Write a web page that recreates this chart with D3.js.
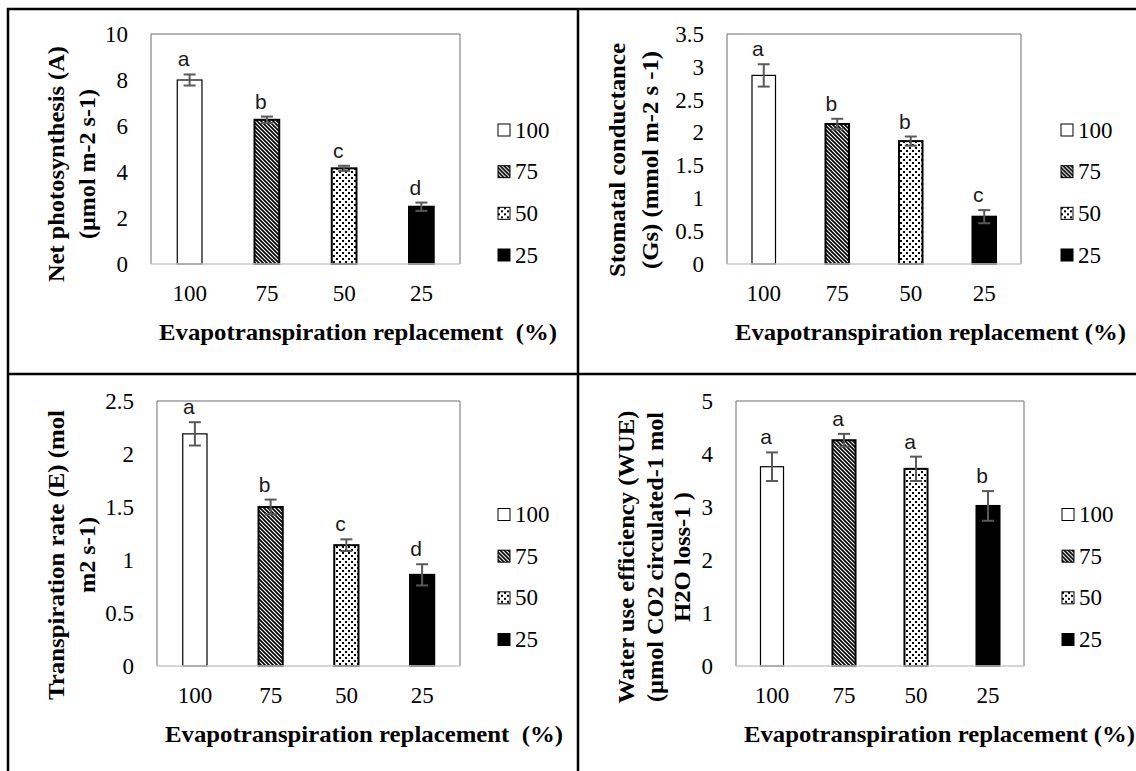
<!DOCTYPE html>
<html>
<head>
<meta charset="utf-8">
<script src="https://cdn.jsdelivr.net/npm/d3@7/dist/d3.min.js"></script>
<style>
  body { margin: 0; background: #fff; }
  svg { display: block; }
  text { font-family: "Liberation Serif", "Times New Roman", serif; white-space: pre; }
</style>
</head>
<body>
<div id="main"></div>
<script>
// treatments (evapotranspiration replacement %)
const categories = ['100', '75', '50', '25'];

const photosynthesis = [8.0, 6.27, 4.16, 2.49];
const photosynthesisErr = [0.24, 0.14, 0.11, 0.18];
const photosynthesisLetters = ['a', 'b', 'c', 'd'];
const photosynthesisTicks = [0, 2, 4, 6, 8, 10];

const conductance = [2.87, 2.13, 1.87, 0.72];
const conductanceErr = [0.17, 0.08, 0.07, 0.1];
const conductanceLetters = ['a', 'b', 'b', 'c'];
const conductanceTicks = [0, 0.5, 1, 1.5, 2, 2.5, 3, 3.5];

const transpiration = [2.19, 1.5, 1.14, 0.86];
const transpirationErr = [0.11, 0.07, 0.055, 0.1];
const transpirationLetters = ['a', 'b', 'c', 'd'];
const transpirationTicks = [0, 0.5, 1, 1.5, 2, 2.5];

const wue = [3.76, 4.26, 3.72, 3.02];
const wueErr = [0.27, 0.12, 0.23, 0.28];
const wueLetters = ['a', 'a', 'a', 'b'];
const wueTicks = [0, 1, 2, 3, 4, 5];

const W = 1136, H = 771;
const SERIF = '"Liberation Serif", "Times New Roman", serif';

const svg = d3.select('#main')
    .append('svg')
    .attr('width', W)
    .attr('height', H);

// fill patterns, one per treatment
const defs = svg.append('defs');
const stripes = defs.append('pattern')
    .attr('id', 'p75')
    .attr('patternUnits', 'userSpaceOnUse')
    .attr('width', 4).attr('height', 4);
stripes.append('rect').attr('width', 4).attr('height', 4).attr('fill', '#fff');
stripes.append('path')
    .attr('d', 'M-1,-1 L5,5 M-1,3 L1,5 M3,-1 L5,1')
    .attr('stroke', '#000').attr('stroke-width', 1.7);

const dots = defs.append('pattern')
    .attr('id', 'p50')
    .attr('patternUnits', 'userSpaceOnUse')
    .attr('width', 6).attr('height', 6);
dots.append('rect').attr('width', 6).attr('height', 6).attr('fill', '#fff');
dots.append('rect').attr('x', 0).attr('y', 0).attr('width', 2).attr('height', 2).attr('fill', '#000');
dots.append('rect').attr('x', 3).attr('y', 3).attr('width', 2).attr('height', 2).attr('fill', '#000');

const fills = { '100': '#fff', '75': 'url(#p75)', '50': 'url(#p50)', '25': '#000' };

const panels = [
    { values: photosynthesis, err: photosynthesisErr, letters: photosynthesisLetters, ticks: photosynthesisTicks,
      box: [151, 460, 34, 264], legendX: 498, titleX: [56, 87], titleY: 164, titleLen: [236, 150],
      yTitle: ['Net photosynthesis (A)', '(\u00b5mol m-2 s-1)'],
      xTitle: 'Evapotranspiration replacement  (%)', xTitleLen: 398 },
    { values: conductance, err: conductanceErr, letters: conductanceLetters, ticks: conductanceTicks,
      box: [727, 1021, 34, 264], legendX: 1061, titleX: [617, 650], titleY: 160, titleLen: [234, 218],
      yTitle: ['Stomatal conductance', '(Gs) (mmol m-2 s -1)'],
      xTitle: 'Evapotranspiration replacement (%)', xTitleLen: 391 },
    { values: transpiration, err: transpirationErr, letters: transpirationLetters, ticks: transpirationTicks,
      box: [157, 460, 401, 666], legendX: 498, titleX: [56, 87], titleY: 555, titleLen: [290, 76],
      yTitle: ['Transpiration rate (E) (mol', 'm2 s-1)'],
      xTitle: 'Evapotranspiration replacement  (%)', xTitleLen: 398 },
    { values: wue, err: wueErr, letters: wueLetters, ticks: wueTicks,
      box: [736, 1024, 401, 666], legendX: 1062, titleX: [626, 655, 682], titleY: 557, titleLen: [293, 290, 130],
      yTitle: ['Water use efficiency (WUE)', '(\u00b5mol CO2 circulated-1 mol', 'H2O loss-1 )'],
      xTitle: 'Evapotranspiration replacement (%)', xTitleLen: 391 }
];

panels.forEach(drawPanel);

function drawPanel(p) {
    const [left, right, top, bottom] = p.box;
    const g = svg.append('g');

    const x = d3.scaleBand().domain(categories).range([left, right]);
    const y = d3.scaleLinear().domain([0, d3.max(p.ticks)]).range([bottom, top]);
    const bw = x.bandwidth() * 0.32;

    // plot frame
    g.append('path')
        .attr('d', `M${left},${bottom} V${top} H${right} V${bottom}`)
        .attr('fill', 'none').attr('stroke', '#6f6f6f').attr('stroke-width', 1);

    const yAxis = d3.axisLeft(y).tickValues(p.ticks).tickSize(0).tickPadding(23)
        .tickFormat(d3.format('~g'));
    g.append('g')
        .attr('transform', `translate(${left},0)`)
        .call(yAxis)
        .call(a => a.select('.domain').remove())
        .selectAll('text')
        .style('font-family', SERIF)
        .attr('font-size', 23).attr('fill', '#000');

    const xAxis = d3.axisBottom(x).tickSize(0).tickPadding(21);
    g.append('g')
        .attr('transform', `translate(0,${bottom})`)
        .call(xAxis)
        .call(a => a.select('.domain').remove())
        .selectAll('text')
        .style('font-family', SERIF)
        .attr('font-size', 23).attr('fill', '#000');

    const rows = categories.map((c, i) => ({ c, v: p.values[i], e: p.err[i], l: p.letters[i] }));

    g.selectAll('rect.bar')
        .data(rows)
        .enter()
        .append('rect')
        .attr('class', 'bar')
        .attr('x', d => x(d.c) + (x.bandwidth() - bw) / 2)
        .attr('y', d => y(d.v))
        .attr('width', bw)
        .attr('height', d => y(0) - y(d.v))
        .attr('fill', d => fills[d.c])
        .attr('stroke', '#000')
        .attr('stroke-width', d => d.c === '100' ? 1.2 : 2);

    // baseline
    g.append('line')
        .attr('x1', left).attr('x2', right)
        .attr('y1', bottom).attr('y2', bottom)
        .attr('stroke', '#c8c8c8').attr('stroke-width', 1.5);

    // error bars
    const eb = g.selectAll('g.err').data(rows).enter().append('g')
        .attr('stroke', '#595959').attr('stroke-width', 2);
    const cx = d => x(d.c) + x.bandwidth() / 2;
    eb.append('line')
        .attr('x1', cx).attr('x2', cx)
        .attr('y1', d => y(d.v + d.e)).attr('y2', d => y(d.v - d.e));
    eb.append('line')
        .attr('x1', d => cx(d) - 6).attr('x2', d => cx(d) + 6)
        .attr('y1', d => y(d.v + d.e)).attr('y2', d => y(d.v + d.e));
    eb.append('line')
        .attr('x1', d => cx(d) - 6).attr('x2', d => cx(d) + 6)
        .attr('y1', d => y(d.v - d.e)).attr('y2', d => y(d.v - d.e));

    // significance letters
    g.selectAll('text.letter')
        .data(rows)
        .enter()
        .append('text')
        .attr('class', 'letter')
        .attr('x', d => cx(d) - 6)
        .attr('y', d => y(d.v + d.e) - 8)
        .attr('text-anchor', 'middle')
        .style('font-family', '"Liberation Sans", Arial, sans-serif')
        .attr('font-size', 21)
        .attr('fill', '#1a1a1a')
        .text(d => d.l);

    // x title
    g.append('text')
        .attr('x', left + 8)
        .attr('y', bottom + 76)
        .attr('font-size', 24).attr('font-weight', 'bold')
        .attr('textLength', p.xTitleLen)
        .attr('lengthAdjust', 'spacingAndGlyphs')
        .text(p.xTitle);

    // y title lines
    p.yTitle.forEach((t, i) => {
        g.append('text')
            .attr('transform', `translate(${p.titleX[i]},${p.titleY}) rotate(-90)`)
            .attr('x', -p.titleLen[i] / 2)
            .attr('dominant-baseline', 'central')
            .attr('font-size', 24).attr('font-weight', 'bold')
            .attr('textLength', p.titleLen[i])
            .attr('lengthAdjust', 'spacingAndGlyphs')
            .text(t);
    });

    // legend
    const ly = d3.scalePoint().domain(categories)
        .range([(top + bottom) / 2 - 19, (top + bottom) / 2 + 106]);
    const leg = g.selectAll('g.leg').data(categories).enter().append('g')
        .attr('transform', d => `translate(${p.legendX},${ly(d)})`);
    leg.append('rect')
        .attr('x', 0).attr('y', -6)
        .attr('width', 12).attr('height', 12)
        .attr('fill', d => fills[d])
        .attr('stroke', '#000').attr('stroke-width', 1);
    leg.append('text')
        .attr('x', 17).attr('y', 0)
        .attr('dominant-baseline', 'central')
        .style('font-family', SERIF)
        .attr('font-size', 23)
        .text(d => d);
}

// table grid lines
const grid = svg.append('g').attr('stroke', '#000').attr('stroke-width', 2.5);
grid.append('line').attr('x1', 7).attr('x2', W).attr('y1', 9).attr('y2', 9);
grid.append('line').attr('x1', 8).attr('x2', 8).attr('y1', 8).attr('y2', H);
grid.append('line').attr('x1', 578).attr('x2', 578).attr('y1', 8).attr('y2', H);
grid.append('line').attr('x1', 7).attr('x2', W).attr('y1', 374).attr('y2', 374);
</script>
</body>
</html>
